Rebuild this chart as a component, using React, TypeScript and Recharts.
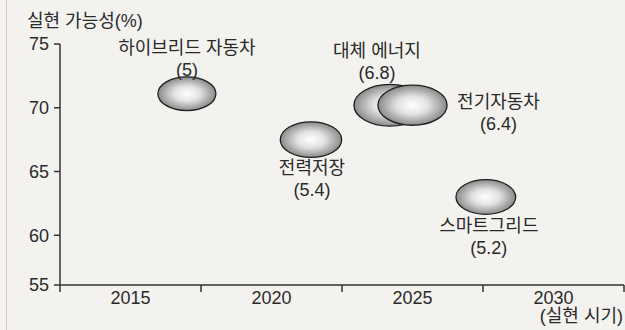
import { ScatterChart, Scatter, XAxis, YAxis, ZAxis } from 'recharts'

// ─── Data ─────────────────────────────────────────────────────────────────────

const techNames = ['하이브리드 자동차', '전력저장', '대체 에너지', '전기자동차', '스마트그리드']
const realizeYears = [2017.0, 2021.4, 2024.2, 2025.0, 2027.6]
const feasibility = [71.1, 67.5, 70.2, 70.2, 63.0]
const scores = [5, 5.4, 6.8, 6.4, 5.2]

const yearLabels = [2015, 2020, 2025, 2030]
const yearBounds = [2012.5, 2017.5, 2022.5, 2027.5, 2032.5]
const yTicks = [56.1, 60, 65, 70, 75] // bottom tick is shown as 55

const data = techNames.map((name, i) => ({
  name,
  x: realizeYears[i],
  y: feasibility[i],
  z: scores[i],
}))

// label offset (first line centre relative to the bubble centre)
const LABEL_PLACEMENT: Record<string, [number, number]> = {
  '하이브리드 자동차': [0, -46],
  전력저장: [1, 28],
  '대체 에너지': [-13, -55],
  전기자동차: [86, -4],
  스마트그리드: [3, 29],
}

const FONT = '"Liberation Sans", Arial, "Noto Sans CJK KR", sans-serif'
const INK = '#2a2a2a'
const AXIS = '#333'

// ─── Pieces ───────────────────────────────────────────────────────────────────

function XTick(props: any) {
  const { x, y, payload } = props
  const v = payload.value
  if (yearBounds.includes(v)) {
    return <line x1={x} x2={x} y1={y - 7} y2={y} stroke={AXIS} strokeWidth={1.5} />
  }
  return (
    <text x={x} y={y} dy={12} textAnchor="middle" fill={INK} fontSize={18} fontFamily={FONT}>
      {v}
    </text>
  )
}

function Bubble(props: any) {
  const { cx, cy, payload, index } = props
  const d = props.width ?? 2 * Math.sqrt((props.size ?? 2642) / Math.PI)
  const rx = d / 2
  const ry = rx * 0.58
  const [dx, dy] = LABEL_PLACEMENT[payload.name] ?? [0, -40]
  const gid = `bubble-grad-${index}`
  return (
    <g>
      <defs>
        <radialGradient id={gid} cx="50%" cy="50%" r="50%">
          <stop offset="0%" stopColor="#ffffff" />
          <stop offset="45%" stopColor="#e2e2e2" />
          <stop offset="100%" stopColor="#8a8a8a" />
        </radialGradient>
      </defs>
      <ellipse cx={cx} cy={cy} rx={rx} ry={ry} fill={`url(#${gid})`} stroke="#1e1e1e" strokeWidth={1.3} />
      <text x={cx + dx} y={cy + dy} dy="0.36em" textAnchor="middle" fill={INK} fontSize={18} fontFamily={FONT}>
        {payload.name}
      </text>
      <text x={cx + dx} y={cy + dy + 22} dy="0.36em" textAnchor="middle" fill={INK} fontSize={18} fontFamily={FONT}>
        ({payload.z})
      </text>
    </g>
  )
}

// ─── App ──────────────────────────────────────────────────────────────────────

export default function App() {
  return (
    <div
      style={{
        position: 'fixed',
        left: 0,
        top: 0,
        width: 625,
        height: 330,
        background: '#f3f2ee',
        fontFamily: FONT,
        overflow: 'hidden',
      }}
    >
      <ScatterChart
        width={625}
        height={330}
        margin={{ top: 44, right: 1, bottom: 0, left: 0 }}
        style={{ fontFamily: FONT }}
      >
        <XAxis
          type="number"
          dataKey="x"
          domain={[2012.5, 2032.5]}
          ticks={[...yearBounds, ...yearLabels].sort((a, b) => a - b)}
          interval={0}
          height={45}
          tickLine={false}
          tickSize={7}
          tickMargin={0}
          axisLine={{ stroke: AXIS, strokeWidth: 1.5 }}
          tick={<XTick />}
        />
        <YAxis
          type="number"
          dataKey="y"
          domain={[56.1, 75]}
          ticks={yTicks}
          interval={0}
          width={60}
          tickSize={6}
          tickMargin={5}
          tickFormatter={(v: number) => (v === 56.1 ? '55' : String(v))}
          tick={{ fontSize: 18, fill: INK, fontFamily: FONT }}
          tickLine={{ stroke: AXIS, strokeWidth: 1.5 }}
          axisLine={{ stroke: AXIS, strokeWidth: 1.5 }}
        />
        <ZAxis type="number" dataKey="z" domain={[5, 6.8]} range={[2642, 4072]} />
        <Scatter data={data} shape={<Bubble />} isAnimationActive={false} />
      </ScatterChart>
      <svg
        width={625}
        height={330}
        style={{ position: 'absolute', left: 0, top: 0, pointerEvents: 'none' }}
      >
        <line x1={6.5} x2={6.5} y1={0} y2={330} stroke="#d3cab2" strokeWidth={1} />
        <text x={27} y={27} fill={INK} fontSize={18} fontFamily={FONT}>
          실현 가능성(%)
        </text>
        <text x={623} y={322} textAnchor="end" fill={INK} fontSize={18} fontFamily={FONT}>
          (실현 시기)
        </text>
      </svg>
    </div>
  )
}
